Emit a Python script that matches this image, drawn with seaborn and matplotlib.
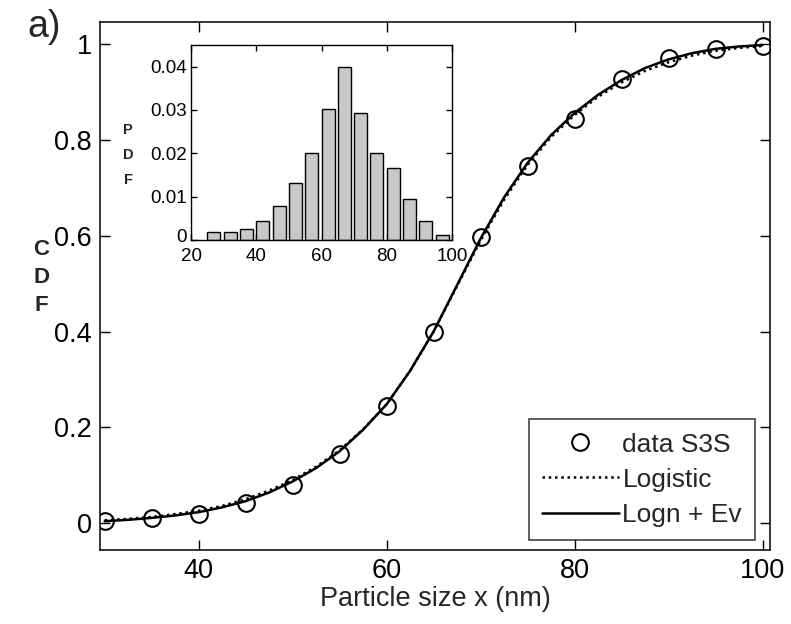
import numpy as np
import pandas as pd
import matplotlib
matplotlib.use("Agg")
import matplotlib.pyplot as plt
import matplotlib.transforms as mtransforms
import seaborn as sns

# ---- data ----
size_nm = [30, 35, 40, 45, 50, 55, 60, 65, 70, 75, 80, 85, 90, 95, 100]
cdf_data = [0.004, 0.010, 0.020, 0.042, 0.080, 0.145, 0.245, 0.398, 0.598, 0.745, 0.843, 0.928, 0.970, 0.990, 0.996]

curve_x = [30, 32.5, 35, 37.5, 40, 42.5, 45, 47.5, 50, 52.5, 55, 57.5, 60, 62.5, 65,
           67.5, 70, 72.5, 75, 77.5, 80, 82.5, 85, 87.5, 90, 92.5, 95, 97.5, 100]
logistic_y = [0.006, 0.009, 0.013, 0.019, 0.026, 0.036, 0.050, 0.068, 0.090, 0.118, 0.152, 0.196, 0.248,
              0.318, 0.400, 0.495, 0.590, 0.675, 0.748, 0.806, 0.852, 0.890, 0.920, 0.944, 0.962, 0.976, 0.986, 0.992, 0.996]
lognev_y = [0.004, 0.007, 0.011, 0.016, 0.023, 0.033, 0.046, 0.064, 0.087, 0.115, 0.150, 0.195, 0.248,
            0.318, 0.400, 0.497, 0.594, 0.680, 0.752, 0.810, 0.856, 0.894, 0.925, 0.950, 0.968, 0.981, 0.990, 0.995, 0.998]

pdf_centers = [27, 32, 37, 42, 47, 52, 57, 62, 67, 72, 77, 82, 87, 92, 97]
pdf_values = [0.0018, 0.0018, 0.0025, 0.0043, 0.0079, 0.0132, 0.0200, 0.0303, 0.0400, 0.0292,
              0.0200, 0.0165, 0.0094, 0.0044, 0.0011]
pdf_edges = [24.5, 29.5, 34.5, 39.5, 44.5, 49.5, 54.5, 59.5, 64.5, 69.5, 74.5, 79.5, 84.5, 89.5, 94.5, 99.5]

main_xticks = [40, 60, 80, 100]
main_yticks = [0, 0.2, 0.4, 0.6, 0.8, 1]
main_ytick_labels = ["0", "0.2", "0.4", "0.6", "0.8", "1"]
inset_xticks = [20, 40, 60, 80, 100]
inset_yticks = [0, 0.01, 0.02, 0.03, 0.04]
inset_ytick_labels = ["0", "0.01", "0.02", "0.03", "0.04"]

sns.set_theme(style="white")
plt.rcParams['font.family'] = ['Liberation Sans', 'DejaVu Sans']

fig = plt.figure(figsize=(7.91, 6.24), dpi=100)
ax = fig.add_axes([0.1264, 0.1186, 0.8471, 0.8461])

df_pts = pd.DataFrame({"x": size_nm, "y": cdf_data})
df_curve = pd.DataFrame({"x": curve_x, "log": logistic_y, "ln": lognev_y})

sns.lineplot(data=df_curve, x="x", y="log", ax=ax, color="black", lw=1.8,
             linestyle=(0, (1, 1.5)), label="Logistic", sort=False)
sns.lineplot(data=df_curve, x="x", y="ln", ax=ax, color="black", lw=1.8,
             label="Logn + Ev", sort=False)
sns.lineplot(data=df_pts, x="x", y="y", ax=ax, color="black", marker="o", markersize=12,
             markerfacecolor="none", markeredgecolor="black", markeredgewidth=1.5,
             linestyle="none", label="data S3S")

ax.set_xlim(29.5, 100.8)
ax.set_ylim(-0.056, 1.046)
ax.set_xticks(main_xticks)
ax.set_xticklabels([str(t) for t in main_xticks])
ax.set_yticks(main_yticks)
ax.set_yticklabels(main_ytick_labels)
ax.tick_params(direction="in", length=7, width=1, labelsize=19.5, top=True, right=True,
               bottom=True, left=True, colors="black", pad=6)
for s in ax.spines.values():
    s.set_color("black")
    s.set_linewidth(1.1)
ax.set_xlabel("Particle size x (nm)", fontsize=19.5, labelpad=1)
ax.set_ylabel("")
fig.text(0.052, 0.555, "C\nD\nF", fontsize=16, fontweight="bold", ha="center", va="center",
         linespacing=1.45)
fig.text(0.034, 0.985, "a)", fontsize=27, ha="left", va="top")

handles, labels = ax.get_legend_handles_labels()
order = [labels.index("data S3S"), labels.index("Logistic"), labels.index("Logn + Ev")]
leg = ax.legend([handles[i] for i in order], [labels[i] for i in order],
                loc="lower right", bbox_to_anchor=(0.978, 0.019), fontsize=19,
                frameon=True, fancybox=False, handlelength=2.9, handletextpad=0.15,
                borderpad=0.5, labelspacing=0.42, borderaxespad=0)
leg.get_frame().set_edgecolor("black")
leg.get_frame().set_linewidth(1.1)

# ---- inset ----
ins = fig.add_axes([0.2415, 0.6154, 0.3299, 0.3125])
sns.histplot(x=pdf_centers, weights=pdf_values, bins=pdf_edges, shrink=0.8, ax=ins,
             color="#c8c8c8", edgecolor="black", linewidth=1.0, alpha=1)
ins.set_xlim(20, 100)
ins.set_ylim(0, 0.045)
ins.set_xticks(inset_xticks)
ins.set_xticklabels([str(t) for t in inset_xticks])
ins.set_yticks(inset_yticks)
ins.set_yticklabels(inset_ytick_labels)
ins.set_ylabel("")
ins.tick_params(direction="in", length=4, width=1, labelsize=13.5, top=True, right=True,
                bottom=True, left=True, colors="black", pad=3)
ins.tick_params(axis="x", pad=6)
# nudge the inset's "0" label upward slightly so it does not touch "20"
zero_lbl = ins.get_yticklabels()[0]
zero_lbl.set_transform(zero_lbl.get_transform() +
                       mtransforms.ScaledTranslation(0, 3 / 72, fig.dpi_scale_trans))
for s in ins.spines.values():
    s.set_color("black")
    s.set_linewidth(1.0)
fig.text(0.162, 0.752, "P\nD\nF", fontsize=10.5, fontweight="bold", ha="center", va="center",
         linespacing=2.0)

fig.savefig("out.png", dpi=100)
